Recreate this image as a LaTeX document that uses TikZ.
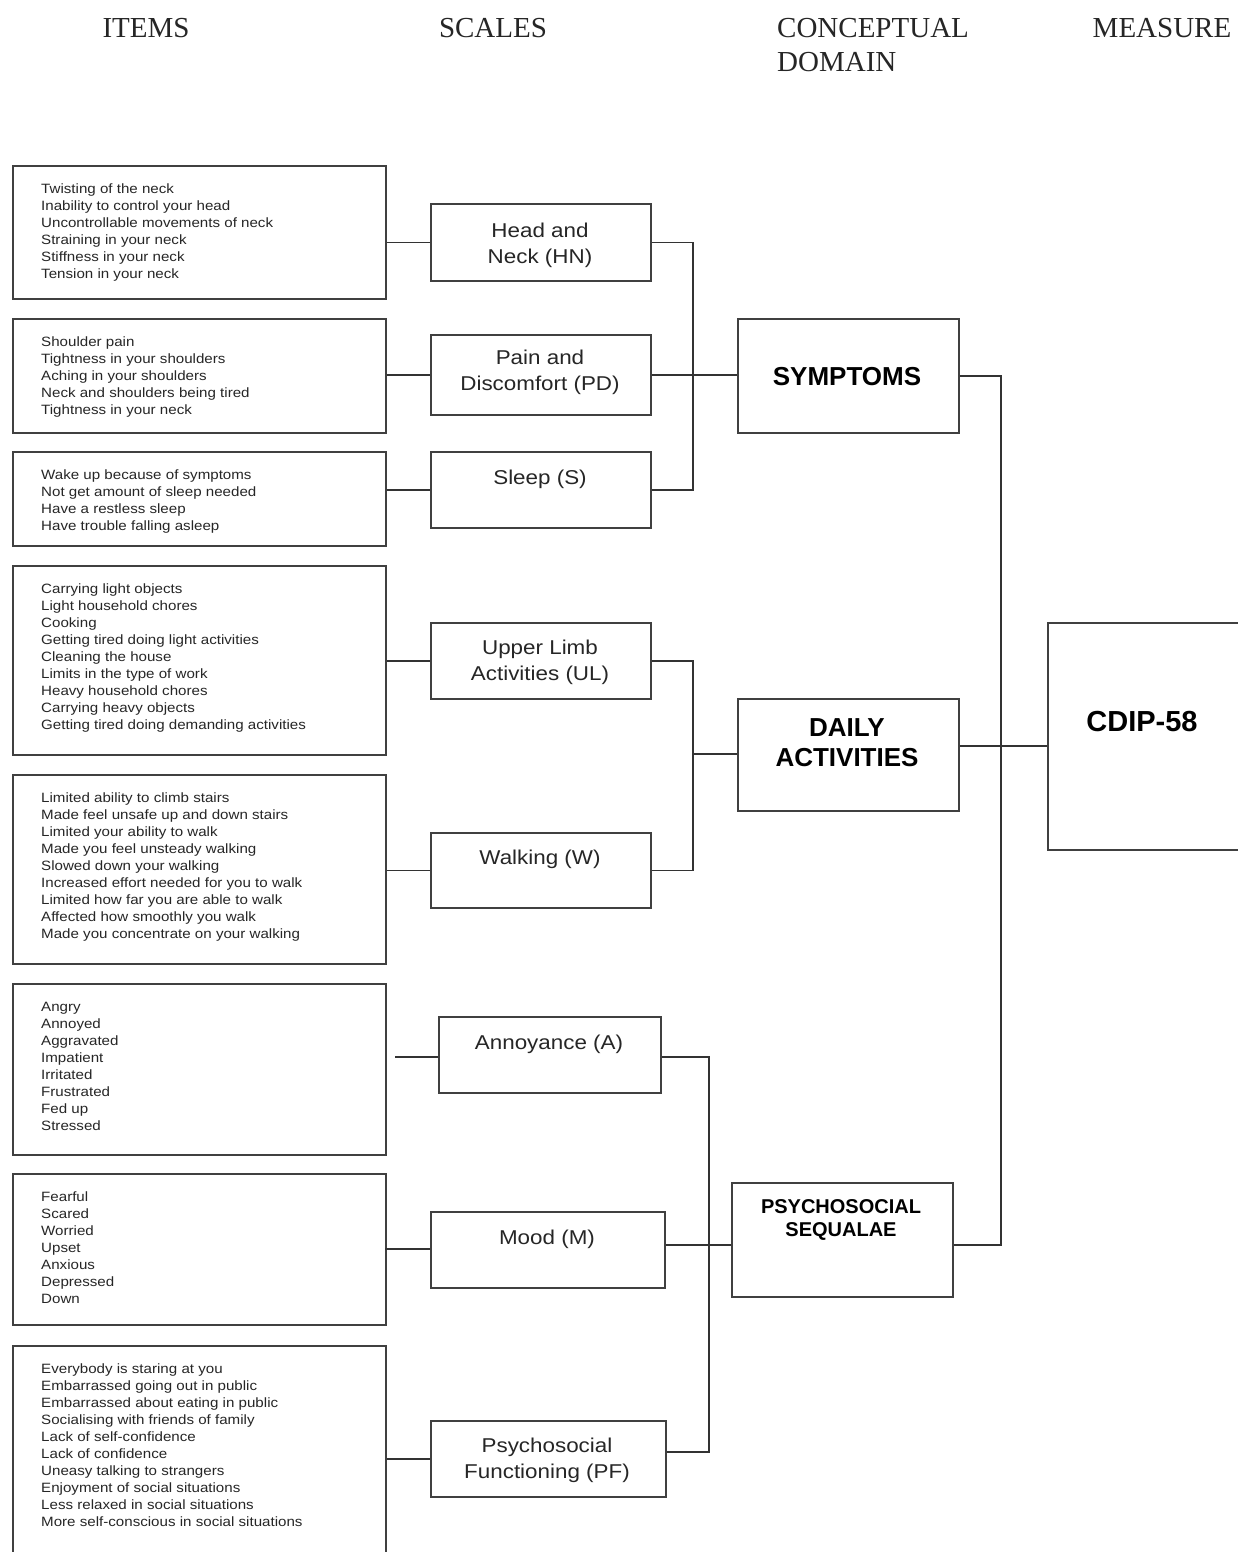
\documentclass[tikz,border=0pt]{standalone}
\usepackage{fontspec}
\setmainfont{Liberation Serif}
\newfontfamily\arialx[FakeStretch=1.12]{Liberation Sans}
\newfontfamily\arial{Liberation Sans}
\usetikzlibrary{calc}
\tikzset{
  bx/.style={draw=black!75, line width=1.7pt, inner sep=0pt, anchor=north west, fill=none},
  con/.style={draw=black!80, line width=1.4pt},
  itemtxt/.style={anchor=north west, inner sep=0pt, align=left, text=black!85,
     font={\arialx\fontsize{13.5}{17}\selectfont}},
  scaletxt/.style={inner sep=0pt, align=center, text=black!85,
     font={\arialx\fontsize{20}{26}\selectfont}},
  domtxt/.style={inner sep=0pt, align=center, text=black,
     font={\arial\bfseries\fontsize{26}{30}\selectfont}},
  headtxt/.style={inner sep=0pt, text=black!85, font={\fontsize{29}{34}\selectfont}}
}
\begin{document}
\begin{tikzpicture}[x=1pt,y=-1pt]
\useasboundingbox (0,0) rectangle (1237,1552);
\fill[white] (0,0) rectangle (1237,1552);

% headers
\node[headtxt, anchor=base] (hItems) at (146,37.6) {ITEMS};
\node[headtxt, anchor=base] (hScales) at (493,37.6) {SCALES};
\node[headtxt, anchor=north west, align=left] (hDomain) at (777,13.8) {\strut CONCEPTUAL\\DOMAIN};
\node[headtxt, anchor=base] (hMeasure) at (1162,37.6) {MEASURE};

% item boxes
\node[bx, minimum width=373pt, minimum height=133pt] (i1) at (12,165) {};
\node[bx, minimum width=373pt, minimum height=114pt] (i2) at (12,318) {};
\node[bx, minimum width=373pt, minimum height=94pt]  (i3) at (12,451) {};
\node[bx, minimum width=373pt, minimum height=189pt] (i4) at (12,565) {};
\node[bx, minimum width=373pt, minimum height=189pt] (i5) at (12,774) {};
\node[bx, minimum width=373pt, minimum height=171pt] (i6) at (12,983) {};
\node[bx, minimum width=373pt, minimum height=151pt] (i7) at (12,1173) {};
\node[bx, minimum width=373pt, minimum height=212pt] (i8) at (12,1345) {};

\node[itemtxt] (t1) at (41,181) {\strut Twisting of the neck\\Inability to control your head\\Uncontrollable movements of neck\\Straining in your neck\\Stiffness in your neck\\Tension in your neck};
\node[itemtxt] (t2) at (41,334) {\strut Shoulder pain\\Tightness in your shoulders\\Aching in your shoulders\\Neck and shoulders being tired\\Tightness in your neck};
\node[itemtxt] (t3) at (41,467) {\strut Wake up because of symptoms\\Not get amount of sleep needed\\Have a restless sleep\\Have trouble falling asleep};
\node[itemtxt] (t4) at (41,581) {\strut Carrying light objects\\Light household chores\\Cooking\\Getting tired doing light activities\\Cleaning the house\\Limits in the type of work\\Heavy household chores\\Carrying heavy objects\\Getting tired doing demanding activities};
\node[itemtxt] (t5) at (41,790) {\strut Limited ability to climb stairs\\Made feel unsafe up and down stairs\\Limited your ability to walk\\Made you feel unsteady walking\\Slowed down your walking\\Increased effort needed for you to walk\\Limited how far you are able to walk\\Affected how smoothly you walk\\Made you concentrate on your walking};
\node[itemtxt] (t6) at (41,999) {\strut Angry\\Annoyed\\Aggravated\\Impatient\\Irritated\\Frustrated\\Fed up\\Stressed};
\node[itemtxt] (t7) at (41,1189) {\strut Fearful\\Scared\\Worried\\Upset\\Anxious\\Depressed\\Down};
\node[itemtxt] (t8) at (41,1361) {\strut Everybody is staring at you\\Embarrassed going out in public\\Embarrassed about eating in public\\Socialising with friends of family\\Lack of self-confidence\\Lack of confidence\\Uneasy talking to strangers\\Enjoyment of social situations\\Less relaxed in social situations\\More self-conscious in social situations};

% scale boxes
\node[bx, minimum width=220pt, minimum height=77pt] (hn) at (430,203) {};
\node[bx, minimum width=220pt, minimum height=80pt] (pd) at (430,334) {};
\node[bx, minimum width=220pt, minimum height=76pt] (sl) at (430,451) {};
\node[bx, minimum width=220pt, minimum height=76pt] (ul) at (430,622) {};
\node[bx, minimum width=220pt, minimum height=75pt] (wk) at (430,832) {};
\node[bx, minimum width=222pt, minimum height=76pt] (an) at (438,1016) {};
\node[bx, minimum width=234pt, minimum height=76pt] (md) at (430,1211) {};
\node[bx, minimum width=235pt, minimum height=76pt] (pf) at (430,1420) {};

\node[scaletxt] (hnt) at (540,245) {Head and\\Neck (HN)};
\node[scaletxt] (pdt) at (540,372) {Pain and\\Discomfort (PD)};
\node[scaletxt] (slt) at (540,479) {Sleep (S)};
\node[scaletxt] (ult) at (540,662) {Upper Limb\\Activities (UL)};
\node[scaletxt] (wkt) at (540,859) {Walking (W)};
\node[scaletxt] (ant) at (549,1044) {Annoyance (A)};
\node[scaletxt] (mdt) at (547,1239) {Mood (M)};
\node[scaletxt] (pft) at (547,1460) {Psychosocial\\Functioning (PF)};

% domain boxes
\node[bx, minimum width=221pt, minimum height=114pt] (sy) at (737,318) {};
\node[bx, minimum width=221pt, minimum height=112pt] (da) at (737,698) {};
\node[bx, minimum width=221pt, minimum height=114pt] (ps) at (731,1182) {};
\node[bx, minimum width=200pt, minimum height=227pt] (cd) at (1047,622) {};

\node[domtxt] (syt) at (847,377) {SYMPTOMS};
\node[domtxt] (dat) at (847,743) {DAILY\\ACTIVITIES};
\node[domtxt, font={\arial\bfseries\fontsize{20}{23}\selectfont}] (pst) at (841,1219.5) {PSYCHOSOCIAL\\SEQUALAE};
\node[domtxt, font={\arial\bfseries\fontsize{29}{34}\selectfont}] (cdt) at (1142,722) {CDIP-58};

% items -> scales
\draw[con] (i1.east |- hn.west) -- (hn.west);
\draw[con] (i2.east |- pd.west) -- (pd.west);
\draw[con] (i3.east |- sl.west) -- (sl.west);
\draw[con] (i4.east |- ul.west) -- (ul.west);
\draw[con] (i5.east |- wk.west) -- (wk.west);
\coordinate (aL) at (395,1057);
\draw[con] (aL) -- (aL -| an.west);
\coordinate (mL) at (385,1249);
\draw[con] (mL) -- (mL -| md.west);
\draw[con] (i8.east |- pf.west) -- (pf.west);

% scales -> domains
\coordinate (sj) at (693,375);
\draw[con] (hn.east) -| (sj) |- (sl.east);
\draw[con] (pd.east |- sj) -- (sy.west |- sj);
\coordinate (dj) at (693,754);
\draw[con] (ul.east) -| (dj) |- (wk.east);
\draw[con] (dj) -- (da.west |- dj);
\coordinate (aR) at (709,1057);
\coordinate (pfR) at (709,1452);
\draw[con] (aR -| an.east) -- (aR) -- (pfR) -- (pfR -| pf.east);
\coordinate (pj) at (709,1245);
\draw[con] (md.east |- pj) -- (ps.west |- pj);

% domains -> measure
\coordinate (mv) at (1001,1245);
\draw[con] (sy.east) -| (mv) -- (ps.east |- mv);
\coordinate (dm) at (1001,746);
\draw[con] (da.east |- dm) -- (cd.west |- dm);
\end{tikzpicture}
\end{document}
